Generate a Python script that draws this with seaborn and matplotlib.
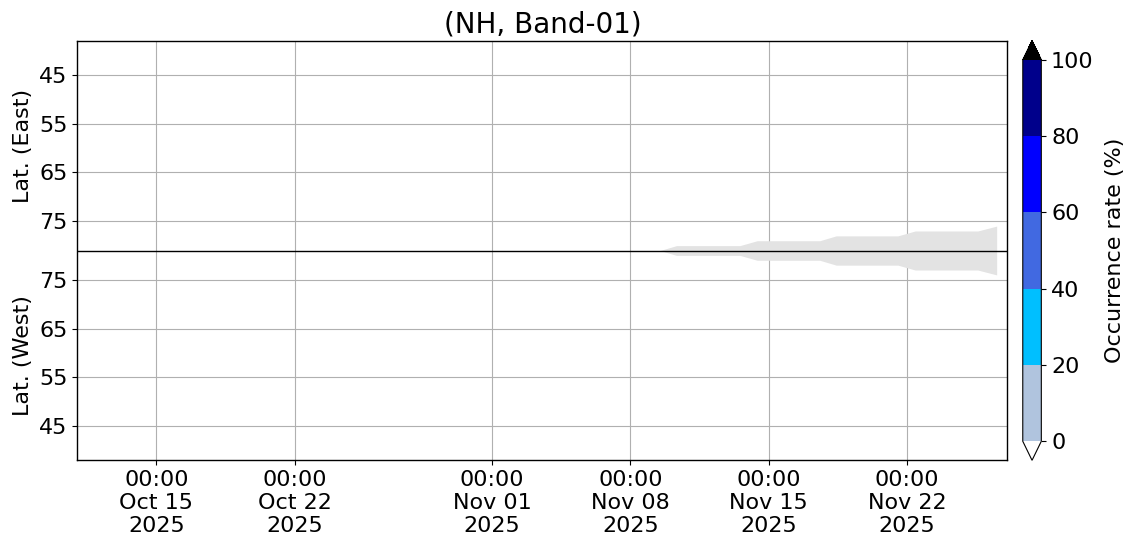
import numpy as np
import pandas as pd
import matplotlib
matplotlib.use("Agg")
import matplotlib.pyplot as plt
import matplotlib.dates as mdates
from matplotlib.colors import ListedColormap, BoundaryNorm
import matplotlib.cm as cm
import seaborn as sns

# ---- data ----
title = "(NH, Band-01)"
cbar_levels = [0, 20, 40, 60, 80, 100]
cbar_colors = ["lightsteelblue", "deepskyblue", "royalblue", "blue", "darkblue"]
lat_ticks = [45, 55, 65, 75]
center_lat = 81.0           # latitude at the centre line
lat_min = 38.0              # latitude at the outer edges
x_ticks = ["2025-10-15", "2025-10-22", "2025-11-01", "2025-11-08", "2025-11-15", "2025-11-22"]
x_range = ["2025-10-11", "2025-11-27 02:00"]
# polar-night (no data) boundary latitude vs time
pn_times = ["2025-11-09 12:00", "2025-11-10 08:00", "2025-11-13 13:00", "2025-11-14 10:00",
            "2025-11-17 14:00", "2025-11-18 10:00", "2025-11-21 13:00", "2025-11-22 10:00",
            "2025-11-25 14:00", "2025-11-26 13:00"]
pn_lat = [81.0, 80.0, 80.0, 79.0, 79.0, 78.0, 78.0, 77.0, 77.0, 76.0]

sns.set_theme(style="white", rc={"text.color": "black", "axes.labelcolor": "black",
                                 "xtick.color": "black", "ytick.color": "black"})
plt.rcParams["font.family"] = ["DejaVu Sans"]

fig = plt.figure(figsize=(11.32, 5.56), dpi=100)
ax = fig.add_axes([0.0683, 0.1721, 0.8216, 0.7547])
cax = fig.add_axes([0.9035, 0.1721, 0.0164, 0.7547])

df = pd.DataFrame({"time": pd.to_datetime(pn_times), "lat": pn_lat})
df["half"] = center_lat - df["lat"]
ax.fill_between(df["time"], -df["half"], df["half"], color="#e3e3e3", linewidth=0, zorder=1)
sns.lineplot(data=df, x="time", y="half", ax=ax, linewidth=0, color="#e3e3e3")

ax.axhline(0, color="black", linewidth=1.0, zorder=3)

yt = [center_lat - l for l in lat_ticks] + [-(center_lat - l) for l in lat_ticks]
yl = [str(l) for l in lat_ticks] * 2
ax.set_yticks(yt)
ax.set_yticklabels(yl)
ax.set_ylim(-(center_lat - lat_min), center_lat - lat_min)

xt = pd.to_datetime(x_ticks)
ax.set_xticks(xt)
ax.set_xticklabels([d.strftime("%H:%M\n%b %d\n%Y") for d in xt])
ax.set_xlim(pd.to_datetime(x_range[0]), pd.to_datetime(x_range[1]))

ax.grid(True, color="#b0b0b0", linewidth=0.8, zorder=0)
ax.set_axisbelow(True)
for s in ax.spines.values():
    s.set_color("black")
    s.set_linewidth(1.0)
ax.tick_params(axis="both", which="major", labelsize=16, length=3.5, width=0.8,
               left=True, bottom=True, color="black", labelcolor="black", pad=3.5)
ax.set_xlabel("")
ax.set_ylabel("")
ax.text(-0.058, 0.75, "Lat. (East)", transform=ax.transAxes, rotation=90,
        ha="center", va="center", fontsize=16, color="black")
ax.text(-0.058, 0.25, "Lat. (West)", transform=ax.transAxes, rotation=90,
        ha="center", va="center", fontsize=16, color="black")
ax.set_title(title, fontsize=20, pad=6, color="black")

cmap = ListedColormap(cbar_colors)
cmap.set_under("white")
cmap.set_over("black")
norm = BoundaryNorm(cbar_levels, cmap.N)
sm = cm.ScalarMappable(norm=norm, cmap=cmap)
cb = fig.colorbar(sm, cax=cax, extend="both", ticks=cbar_levels)
cb.outline.set_linewidth(0.8)
cb.outline.set_edgecolor("black")
cb.ax.tick_params(labelsize=16, length=3.5, width=0.8, right=True, color="black",
                  labelcolor="black")
cb.set_label("Occurrence rate (%)", fontsize=16, labelpad=8, color="black")

fig.savefig("out.png", dpi=100)
